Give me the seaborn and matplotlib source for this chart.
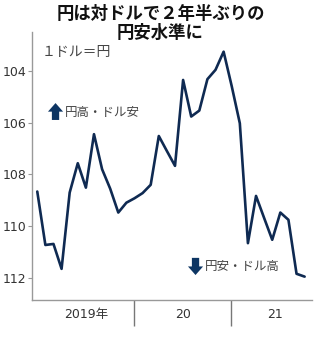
import numpy as np
import pandas as pd
import matplotlib
matplotlib.use("Agg")
import matplotlib.pyplot as plt
from matplotlib import font_manager
from matplotlib.patches import FancyArrow
import seaborn as sns

# ---- data ----
months = list(range(34))  # Jan 2019 .. Oct 2021 (monthly)
usdjpy = [108.66, 110.72, 110.68, 111.64, 108.70, 107.57, 108.51, 106.45,
          107.80, 108.55, 109.47, 109.09, 108.92, 108.72, 108.40, 106.52,
          107.10, 107.67, 104.36, 105.77, 105.54, 104.33, 103.97, 103.27,
          104.60, 106.03, 110.65, 108.83, 109.68, 110.52, 109.47, 109.75,
          111.83, 111.94]
y_ticks = [104, 106, 108, 110, 112]
year_labels = ["2019年", "20", "21"]
year_label_pos = [6.0, 18.0, 29.3]
year_bounds = [11.95, 23.9]

title = "円は対ドルで２年半ぶりの\n円安水準に"
unit_text = "１ドル＝円"
up_text = "円高・ドル安"
down_text = "円安・ドル高"

sns.set_style("white")
plt.rcParams['font.family'] = ['Noto Sans CJK JP', 'DejaVu Sans']
names = {f.name for f in font_manager.fontManager.ttflist}
num_font = 'Liberation Sans Narrow' if 'Liberation Sans Narrow' in names else 'DejaVu Sans'

df = pd.DataFrame({"month": months, "rate": usdjpy})

fig = plt.figure(figsize=(3.21, 3.43), dpi=100)
ax = fig.add_axes([0.0997, 0.1254, 0.8723, 0.7822])

line_color = "#0f2a52"
sns.lineplot(data=df, x="month", y="rate", ax=ax, color=line_color, linewidth=1.9)

ax.set_xlim(-0.65, 33.91)
ax.set_ylim(112.84, 102.5)
ax.set_xlabel("")
ax.set_ylabel("")

for s in ["top", "right"]:
    ax.spines[s].set_visible(False)
for s in ["left", "bottom"]:
    ax.spines[s].set_color("#999999")
    ax.spines[s].set_linewidth(1.0)

ax.set_yticks(y_ticks)
ax.set_yticklabels([str(v) for v in y_ticks], family=[num_font, 'DejaVu Sans'],
                   fontsize=9, color="#333333")
ax.tick_params(axis="y", direction="out", length=3, width=0.8, color="#999999", pad=1, left=True)

ax.set_xticks(year_bounds)
ax.set_xticklabels([])
ax.tick_params(axis="x", which="major", direction="out", length=19, width=1.0, color="#777777", bottom=True)
ax.set_xticks(year_label_pos, minor=True)
ax.set_xticklabels(year_labels, minor=True, family=[num_font, 'Noto Sans CJK JP'],
                   fontsize=9, color="#333333")
ax.tick_params(axis="x", which="minor", length=0, pad=6)

# title
fig.text(0.5, 0.931, title, ha="center", va="center", fontsize=12.5,
         fontweight="bold", color="#111111", linespacing=1.05)

ax.text(0.036, 0.924, unit_text, transform=ax.transAxes, ha="left", va="center",
        fontsize=10, color="#444444")

arrow_color = "#0d3563"
# up arrow
ax.add_patch(FancyArrow(0.084, 0.671, 0, 0.063, width=0.026, head_width=0.054,
                        head_length=0.032, length_includes_head=True,
                        transform=ax.transAxes, color=arrow_color, lw=0))
ax.text(0.118, 0.697, up_text, transform=ax.transAxes, ha="left", va="center",
        fontsize=9, color="#444444")
# down arrow
ax.add_patch(FancyArrow(0.584, 0.157, 0, -0.064, width=0.026, head_width=0.054,
                        head_length=0.032, length_includes_head=True,
                        transform=ax.transAxes, color=arrow_color, lw=0))
ax.text(0.618, 0.123, down_text, transform=ax.transAxes, ha="left", va="center",
        fontsize=9, color="#444444")

fig.savefig("out.png", dpi=100, facecolor="white")
